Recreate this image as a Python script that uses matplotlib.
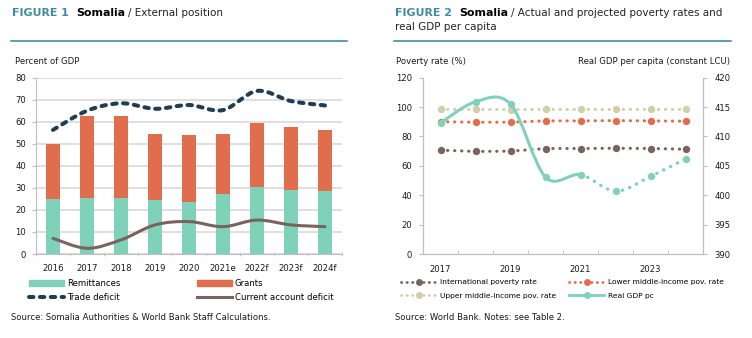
import matplotlib
matplotlib.use("Agg")
import matplotlib.pyplot as plt
import numpy as np
from matplotlib.path import Path
from matplotlib.patches import PathPatch, Patch
from matplotlib.lines import Line2D

# ---------------- data ----------------
years1 = ["2016", "2017", "2018", "2019", "2020", "2021e", "2022f", "2023f", "2024f"]
remittances = [24.8, 25.4, 25.4, 24.4, 23.5, 27.4, 30.3, 29.0, 28.7]
grants = [25.2, 37.0, 37.4, 30.0, 30.3, 27.0, 29.3, 28.5, 27.5]
trade_deficit = [56.3, 65.0, 68.4, 65.9, 67.6, 65.3, 74.0, 69.4, 67.4]
current_account = [7.1, 2.6, 6.4, 13.2, 14.7, 12.4, 15.4, 13.2, 12.4]

years2 = ["2017", "2018", "2019", "2020", "2021", "2022", "2023", "2024"]
intl_pov = [70.7, 69.8, 70.0, 71.8, 71.8, 72.0, 71.8, 71.3]
lmic_pov = [90.0, 89.7, 89.7, 90.6, 90.6, 90.8, 90.6, 90.4]
umic_pov = [98.4, 98.4, 98.3, 98.4, 98.4, 98.4, 98.4, 98.4]
gdp_pc = [412.3, 415.9, 415.5, 403.1, 403.5, 400.7, 403.2, 406.2]
gdp_actual_last = 4  # index of last actual (solid) point

# ---------------- styles ----------------
C_TEAL = "#7FD2B9"
C_ORANGE = "#E06D4C"
C_NAVY = "#1F3E54"
C_BROWN = "#79635F"
C_BEIGE = "#D2CEAC"
C_TITLE = "#3F8CA2"
C_RULE = "#2E8399"
C_SPINE = "#BFBFBF"
C_GRID = "#D9D9D9"
C_TXT = "#1a1a1a"
FS = 6.1
LFS2 = 5.4
TS = 7.9

plt.rcParams["font.family"] = ["DejaVu Sans"]

W, H = 752, 338
fig = plt.figure(figsize=(W / 100, H / 100), dpi=100)


def fx(px):
    return px / W


def fy(py):
    return 1 - py / H


def smooth_path(xs, ys, i0=0, i1=None):
    n = len(xs)
    if i1 is None:
        i1 = n - 1
    verts = [(xs[i0], ys[i0])]
    codes = [Path.MOVETO]
    for i in range(i0, i1):
        p0 = i - 1 if i > 0 else i
        p3 = i + 2 if i + 2 < n else i + 1
        c1 = (xs[i] + (xs[i + 1] - xs[p0]) / 6, ys[i] + (ys[i + 1] - ys[p0]) / 6)
        c2 = (xs[i + 1] - (xs[p3] - xs[i]) / 6, ys[i + 1] - (ys[p3] - ys[i]) / 6)
        verts += [c1, c2, (xs[i + 1], ys[i + 1])]
        codes += [Path.CURVE4] * 3
    return Path(verts, codes)


# ---------------- titles ----------------
def rich_title(x, y, parts):
    fig.canvas.draw()
    r = fig.canvas.get_renderer()
    cx = x
    for txt, weight, color, gap, size in parts:
        cx += gap
        t = fig.text(fx(cx), fy(y), txt, fontsize=size, fontweight=weight,
                     color=color, ha="left", va="baseline")
        bb = t.get_window_extent(renderer=r)
        cx += bb.width


rich_title(12, 16, [("FIGURE 1", "bold", C_TITLE, 0, TS), ("Somalia", "bold", "black", 7, TS),
                    ("/ External position", "normal", "#222222", 3, 7.5)])
rich_title(395, 16, [("FIGURE 2", "bold", C_TITLE, 0, TS), ("Somalia", "bold", "black", 7, TS),
                     ("/ Actual and projected poverty rates and", "normal", "#222222", 3, 7.5)])
fig.text(fx(395), fy(29.5), "real GDP per capita", fontsize=7.5, color="#222222",
         ha="left", va="baseline")

for x0, x1 in [(11, 347), (394, 731)]:
    fig.add_artist(Line2D([fx(x0), fx(x1)], [fy(40.7), fy(40.7)], color=C_RULE, lw=1.1))

fig.text(fx(15), fy(61), "Percent of GDP", fontsize=FS, color=C_TXT, va="center")
fig.text(fx(396), fy(61), "Poverty rate (%)", fontsize=FS, color=C_TXT, va="center")
fig.text(fx(730), fy(61), "Real GDP per capita (constant LCU)", fontsize=FS, color=C_TXT,
         va="center", ha="right")

fig.text(fx(11), fy(318), "Source: Somalia Authorities & World Bank Staff Calculations.",
         fontsize=FS, color=C_TXT, va="center")
fig.text(fx(395), fy(318), "Source: World Bank. Notes: see Table 2.",
         fontsize=FS, color=C_TXT, va="center")

# ---------------- left chart ----------------
dash_td = (0, (1.1, 1.6))
ax = fig.add_axes([fx(36), fy(254), fx(342 - 36), (254 - 77.7) / H])
x1 = np.arange(len(years1))
ax.bar(x1, remittances, width=0.41, color=C_TEAL, zorder=2)
ax.bar(x1, grants, width=0.41, bottom=remittances, color=C_ORANGE, zorder=2)
ax.add_patch(PathPatch(smooth_path(x1, trade_deficit), fill=False, edgecolor=C_NAVY,
                       lw=2.9, linestyle=dash_td, capstyle="round", zorder=3))
ax.add_patch(PathPatch(smooth_path(x1, current_account), fill=False, edgecolor=C_BROWN,
                       lw=2.2, capstyle="round", zorder=3))
ax.set_xlim(-0.5, len(years1) - 0.5)
ax.set_ylim(0, 80)
ax.set_yticks(np.arange(0, 81, 10))
ax.yaxis.grid(True, color=C_GRID, lw=1.2, zorder=0)
ax.set_axisbelow(True)
ax.set_xticks(x1)
ax.set_xticklabels(years1, fontsize=FS, color=C_TXT)
ax.set_xticks(np.arange(-0.5, len(years1), 1), minor=True)
ax.tick_params(axis="x", which="major", length=0, pad=7)
ax.tick_params(axis="x", which="minor", length=3, direction="inout", color=C_SPINE)
ax.tick_params(axis="y", labelsize=FS, labelcolor=C_TXT, length=3, color=C_SPINE, pad=4)
for s in ["top", "right"]:
    ax.spines[s].set_visible(False)
for s in ["left", "bottom"]:
    ax.spines[s].set_color(C_SPINE)

legA = [Patch(color=C_TEAL), Line2D([], [], color=C_NAVY, lw=2.9, linestyle=dash_td,
                                     dash_capstyle="round")]
legB = [Patch(color=C_ORANGE), Line2D([], [], color=C_BROWN, lw=2.2)]
lkw = dict(frameon=False, fontsize=FS, handlelength=4.1, handleheight=0.7,
           handletextpad=0.35, labelspacing=0.55, borderpad=0, borderaxespad=0,
           loc="upper left")
fig.legend(legA, ["Remittances", "Trade deficit"], bbox_to_anchor=(fx(29), fy(279)), **lkw)
fig.legend(legB, ["Grants", "Current account deficit"], bbox_to_anchor=(fx(197), fy(279)), **lkw)

# ---------------- right chart ----------------
axr = fig.add_axes([fx(423), fy(254), fx(703 - 423), (254 - 77.7) / H])
x2 = np.arange(len(years2))
dot = (0, (0.1, 2.2))
mk = 5.3
for vals, col in [(intl_pov, C_BROWN), (lmic_pov, C_ORANGE), (umic_pov, C_BEIGE)]:
    axr.plot(x2, vals, color=col, lw=2.2, linestyle=dot, dash_capstyle="round",
             marker="o", markersize=mk, markeredgewidth=0, zorder=3)
axr.set_xlim(-0.5, len(years2) - 0.5)
axr.set_ylim(0, 120)
axr.set_yticks(np.arange(0, 121, 20))
axr.set_xticks(x2[::2])
axr.set_xticklabels(years2[::2], fontsize=FS, color=C_TXT)
axr.set_xticks(np.arange(-0.5, len(years2), 1), minor=True)
axr.tick_params(axis="x", which="major", length=0, pad=8)
axr.tick_params(axis="x", which="minor", length=3, direction="in", color=C_SPINE)
axr.tick_params(axis="y", labelsize=FS, labelcolor=C_TXT, length=3, color=C_SPINE, pad=5)
axr.spines["top"].set_visible(False)
for s in ["left", "bottom", "right"]:
    axr.spines[s].set_color(C_SPINE)

ax2 = axr.twinx()
ax2.set_ylim(390, 420)
ax2.set_yticks(np.arange(390, 421, 5))
ax2.tick_params(axis="y", labelsize=FS, labelcolor=C_TXT, length=3, color=C_SPINE, pad=5)
ax2.spines["top"].set_visible(False)
for s in ["left", "bottom", "right"]:
    ax2.spines[s].set_color(C_SPINE)
ax2.add_patch(PathPatch(smooth_path(x2, gdp_pc, 0, gdp_actual_last), fill=False,
                        edgecolor=C_TEAL, lw=2.2, capstyle="round", zorder=3))
ax2.add_patch(PathPatch(smooth_path(x2, gdp_pc, gdp_actual_last, len(x2) - 1), fill=False,
                        edgecolor=C_TEAL, lw=2.4, linestyle=dot, capstyle="round", zorder=3))
ax2.plot(x2, gdp_pc, linestyle="none", marker="o", markersize=mk, color=C_TEAL,
         markeredgewidth=0, zorder=4)


def pov_handle(col):
    return Line2D([], [], color=col, lw=2.0, linestyle=(0, (0.1, 1.9)), dash_capstyle="round",
                  marker="o", markersize=5, markeredgewidth=0)


rA = [pov_handle(C_BROWN), pov_handle(C_BEIGE)]
rB = [pov_handle(C_ORANGE), Line2D([], [], color=C_TEAL, lw=2.0, marker="o", markersize=5,
                                   markeredgewidth=0)]
rkw = dict(lkw)
rkw["fontsize"] = LFS2
rkw["handlelength"] = 4.7
rkw["handletextpad"] = 0.45
rkw["labelspacing"] = 1.0
rkw["numpoints"] = 1
fig.legend(rA, ["International poverty rate", "Upper middle-income pov. rate"],
           bbox_to_anchor=(fx(401), fy(279)), **rkw)
fig.legend(rB, ["Lower middle-income pov. rate", "Real GDP pc"],
           bbox_to_anchor=(fx(569), fy(279)), **rkw)

fig.savefig("out.png", dpi=100)
